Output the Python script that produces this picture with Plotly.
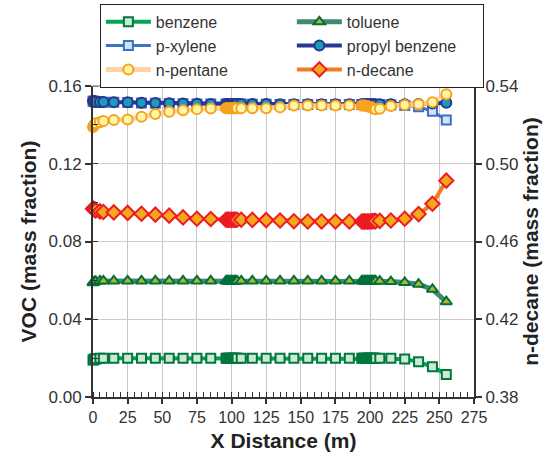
import plotly.graph_objects as go

x_dist = [0, 0.5, 1, 1.5, 2, 5, 7.5, 15, 25, 35, 45, 55, 65, 75, 85,
          96, 97, 98, 99, 100, 101, 102, 103, 104, 107,
          115, 125, 135, 145, 155, 165, 175, 185,
          194, 195, 196, 197, 198, 199, 200, 201, 202, 203, 204, 207,
          215, 225, 235, 245, 255]

benzene = [0.0190, 0.0192, 0.0194, 0.0196, 0.0197, 0.0199, 0.0200,
           0.0200, 0.0200, 0.0200, 0.0200, 0.0200, 0.0200, 0.0200, 0.0200,
           0.0200, 0.0200, 0.0200, 0.0200, 0.0200, 0.0200, 0.0200, 0.0200, 0.0200, 0.0200,
           0.0200, 0.0200, 0.0200, 0.0200, 0.0200, 0.0200, 0.0200, 0.0200,
           0.0200, 0.0200, 0.0200, 0.0200, 0.0200, 0.0200, 0.0200, 0.0200, 0.0200, 0.0200, 0.0200, 0.0200,
           0.0199, 0.0195, 0.0181, 0.0155, 0.0116]

toluene = [0.0588, 0.0590, 0.0592, 0.0594, 0.0595, 0.0597, 0.0597,
           0.0597, 0.0597, 0.0597, 0.0597, 0.0597, 0.0597, 0.0597, 0.0597,
           0.0597, 0.0597, 0.0597, 0.0597, 0.0597, 0.0597, 0.0597, 0.0597, 0.0597, 0.0597,
           0.0597, 0.0597, 0.0597, 0.0597, 0.0597, 0.0597, 0.0597, 0.0597,
           0.0597, 0.0597, 0.0597, 0.0597, 0.0597, 0.0597, 0.0597, 0.0597, 0.0597, 0.0597, 0.0597, 0.0596,
           0.0594, 0.0589, 0.0580, 0.0554, 0.0490]

p_xylene = [0.1522, 0.1521, 0.1520, 0.1519, 0.1518, 0.1517, 0.1517,
            0.1516, 0.1515, 0.1513, 0.1511, 0.1510, 0.1509, 0.1508, 0.1507,
            0.1507, 0.1507, 0.1507, 0.1507, 0.1507, 0.1507, 0.1507, 0.1507, 0.1507, 0.1507,
            0.1506, 0.1506, 0.1505, 0.1505, 0.1505, 0.1505, 0.1505, 0.1505,
            0.1505, 0.1505, 0.1505, 0.1505, 0.1505, 0.1505, 0.1505, 0.1505, 0.1505, 0.1505, 0.1505, 0.1505,
            0.1504, 0.1500, 0.1493, 0.1470, 0.1425]

propyl_benzene = [0.1523, 0.1522, 0.1521, 0.1520, 0.1519, 0.1518, 0.1518,
                  0.1517, 0.1516, 0.1514, 0.1512, 0.1511, 0.1510, 0.1509, 0.1508,
                  0.1508, 0.1508, 0.1508, 0.1508, 0.1508, 0.1508, 0.1508, 0.1508, 0.1508, 0.1508,
                  0.1507, 0.1507, 0.1506, 0.1506, 0.1506, 0.1506, 0.1506, 0.1506,
                  0.1506, 0.1506, 0.1506, 0.1506, 0.1506, 0.1506, 0.1506, 0.1506, 0.1506, 0.1506, 0.1506, 0.1506,
                  0.1506, 0.1506, 0.1507, 0.1510, 0.1514]

n_pentane = [0.1389, 0.1395, 0.1400, 0.1405, 0.1408, 0.1414, 0.1420,
             0.1425, 0.1428, 0.1442, 0.1456, 0.1468, 0.1475, 0.1481, 0.1484,
             0.1485, 0.1485, 0.1485, 0.1485, 0.1485, 0.1485, 0.1485, 0.1485, 0.1485, 0.1485,
             0.1485, 0.1486, 0.1490, 0.1500, 0.1500, 0.1500, 0.1500, 0.1500,
             0.1500, 0.1500, 0.1500, 0.1499, 0.1497, 0.1495, 0.1492, 0.1489, 0.1486, 0.1483, 0.1481, 0.1483,
             0.1497, 0.1502, 0.1506, 0.1517, 0.1557]

n_decane = [0.4769, 0.4767, 0.4765, 0.4762, 0.4760, 0.4755, 0.4752,
            0.4750, 0.4747, 0.4743, 0.4738, 0.4733, 0.4724, 0.4717, 0.4716,
            0.4712, 0.4712, 0.4712, 0.4712, 0.4712, 0.4712, 0.4712, 0.4712, 0.4712, 0.4712,
            0.4711, 0.4710, 0.4708, 0.4704, 0.4703, 0.4703, 0.4703, 0.4703,
            0.4703, 0.4703, 0.4703, 0.4703, 0.4703, 0.4703, 0.4703, 0.4704, 0.4704, 0.4705, 0.4705, 0.4706,
            0.4708, 0.4717, 0.4741, 0.4794, 0.4913]

x_ticks = [0, 25, 50, 75, 100, 125, 150, 175, 200, 225, 250, 275]
voc_ticks = [0.00, 0.04, 0.08, 0.12, 0.16]
decane_ticks = [0.38, 0.42, 0.46, 0.50, 0.54]

FONT = "Liberation Sans, Arial, sans-serif"

fig = go.Figure()

def add(name, y, line_color, line_w, sym, size, fill, edge, yaxis="y"):
    fig.add_trace(go.Scatter(
        x=x_dist, y=y, name=name, mode="lines+markers", yaxis=yaxis,
        line=dict(color=line_color, width=line_w),
        marker=dict(symbol=sym, size=size, color=fill, line=dict(color=edge, width=2)),
        cliponaxis=False,
    ))

add("benzene", benzene, "#00a651", 4, "square", 9, "#cfe8d3", "#00773f")
add("toluene", toluene, "#3e8a72", 5, "triangle-up", 10, "#b3b62e", "#00703c")
add("p-xylene", p_xylene, "#3d74c6", 3, "square", 9, "#cfe6f8", "#3d6fc2")
add("propyl benzene", propyl_benzene, "#283593", 4, "circle", 10, "#1a9bb8", "#283593")
add("n-pentane", n_pentane, "#fdd3a6", 5, "circle", 10, "#fff6a8", "#f6a21c")
add("n-decane", n_decane, "#f47b20", 4, "diamond", 11, "#f7a71c", "#ec1c24", yaxis="y2")

tick_font = dict(family=FONT, size=17, color="#333333")
title_font = dict(family=FONT, size=21, color="#222222")

fig.update_layout(
    width=554, height=463,
    margin=dict(l=93, r=80, t=86, b=66, autoexpand=False),
    paper_bgcolor="white", plot_bgcolor="white",
    font=dict(family=FONT, color="#333333"),
    showlegend=True,
    legend=dict(
        orientation="h", x=0.018, xanchor="left", y=1.264, yanchor="top",
        entrywidth=131, itemwidth=45,
        bordercolor="#222222", borderwidth=1, bgcolor="white",
        font=dict(family=FONT, size=16, color="#333333"),
        tracegroupgap=0,
    ),
    xaxis=dict(
        range=[0, 275], tickvals=x_ticks, ticktext=[str(v) for v in x_ticks],
        showgrid=True, gridcolor="#cbc3c6", gridwidth=1,
        zeroline=False, showline=True, linecolor="#333333", linewidth=2,
        ticks="outside", ticklen=5, tickwidth=1.5, tickcolor="#333333",
        minor=dict(dtick=5, ticks="inside", ticklen=5, tickwidth=1, tickcolor="#333333", showgrid=False),
        tickfont=dict(family=FONT, size=16, color="#333333"),
        title=dict(text="<b>X Distance (m)</b>", font=title_font, standoff=8),
    ),
    yaxis=dict(
        range=[0, 0.16], tickvals=voc_ticks, ticktext=["%.2f" % v for v in voc_ticks],
        showgrid=True, gridcolor="#d0cccc", gridwidth=1,
        zeroline=False, showline=True, linecolor="#333333", linewidth=2,
        ticks="outside", ticklen=6, tickwidth=1.5, tickcolor="#333333",
        minor=dict(dtick=0.02, ticks="inside", ticklen=5, tickwidth=1, tickcolor="#333333", showgrid=False),
        tickfont=tick_font,
        title=dict(text="<b>VOC (mass fraction)</b>", font=title_font, standoff=6),
    ),
    yaxis2=dict(
        range=[0.38, 0.54], tickvals=decane_ticks, ticktext=["%.2f" % v for v in decane_ticks],
        overlaying="y", side="right", showgrid=False, zeroline=False,
        showline=True, linecolor="#333333", linewidth=2,
        ticks="outside", ticklen=6, tickwidth=1.5, tickcolor="#333333",
        tickfont=tick_font,
        title=dict(text="<b>n-decane (mass fraction)</b>", font=title_font, standoff=6),
    ),
    shapes=[dict(type="line", xref="paper", yref="paper", x0=0, x1=1, y0=1, y1=1,
                 line=dict(color="#9a9a9a", width=1.5))],
)

fig.write_html("out.html")
